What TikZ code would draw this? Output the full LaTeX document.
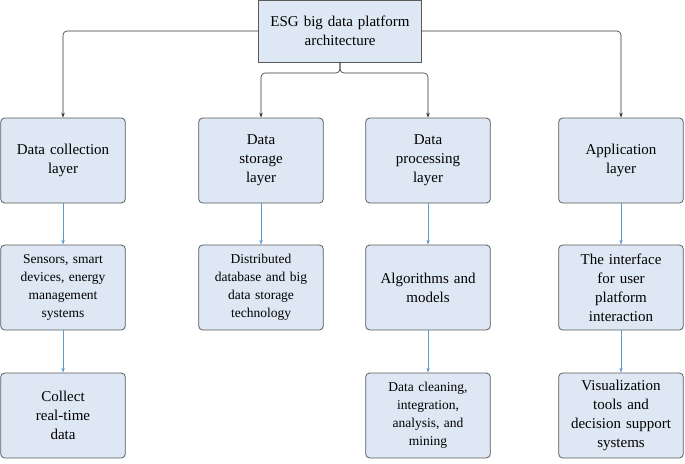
\documentclass[tikz,border=0pt]{standalone}
\usepackage{fontspec}
\setmainfont{Liberation Serif}
\usetikzlibrary{arrows.meta}
\definecolor{boxfill}{HTML}{DDE8F4}
\definecolor{boxdraw}{HTML}{5A5A5A}
\definecolor{arrblue}{HTML}{5B9BD5}
\begin{document}
\begin{tikzpicture}[x=1pt,y=-1pt,
  box/.style={draw=boxdraw,fill=boxfill,rounded corners=4pt,minimum width=122pt,minimum height=85pt,align=center,text width=118pt,font=\fontsize{15}{19}\selectfont,line width=0.8pt},
  blk/.style={draw=black!80,line width=0.6pt,-{Stealth[length=5pt,width=3.5pt]},rounded corners=4pt},
  blu/.style={draw=arrblue,line width=0.6pt,-{Stealth[length=5pt,width=3.5pt]}}]
\useasboundingbox (0,0) rectangle (685,463);
\node[box,rounded corners=0pt,minimum width=156pt,minimum height=62pt,text width=156pt] (top) at (340,31) {ESG big data platform\\architecture};
\node[box] (a1) at (63,160.5) {Data collection\\layer};
\node[box] (b1) at (261,160.5) {Data\\storage\\layer};
\node[box] (c1) at (428,160.5) {Data\\processing\\layer};
\node[box] (d1) at (621,160.5) {Application\\layer};
\node[box,font=\fontsize{13.5}{18}\selectfont] (a2) at (63,287.5) {Sensors, smart\\devices, energy\\management\\systems};
\node[box,font=\fontsize{13.5}{18}\selectfont] (b2) at (261,287.5) {Distributed\\database and big\\data storage\\technology};
\node[box] (c2) at (428,287.5) {Algorithms and\\models};
\node[box] (d2) at (621,287.5) {The interface\\for user\\platform\\interaction};
\node[box] (a3) at (63,415.5) {Collect\\real-time\\data};
\node[box,font=\fontsize{13.5}{18}\selectfont] (c3) at (428,415.5) {Data cleaning,\\integration,\\analysis, and\\mining};
\node[box] (d3) at (621,415.5) {Visualization\\tools and\\decision support\\systems};
\draw[blk] (top.west) -| (a1.north);
\draw[blk] (top.east) -| (d1.north);
\coordinate (s) at (340,73);
\draw[blk] (top.south) -- (s) -| (b1.north);
\draw[blk] (top.south) -- (s) -| (c1.north);
\foreach \u/\v in {a1/a2,a2/a3,b1/b2,c1/c2,c2/c3,d1/d2,d2/d3}
  \draw[blu] (\u.south) -- (\v.north);
\end{tikzpicture}
\end{document}
